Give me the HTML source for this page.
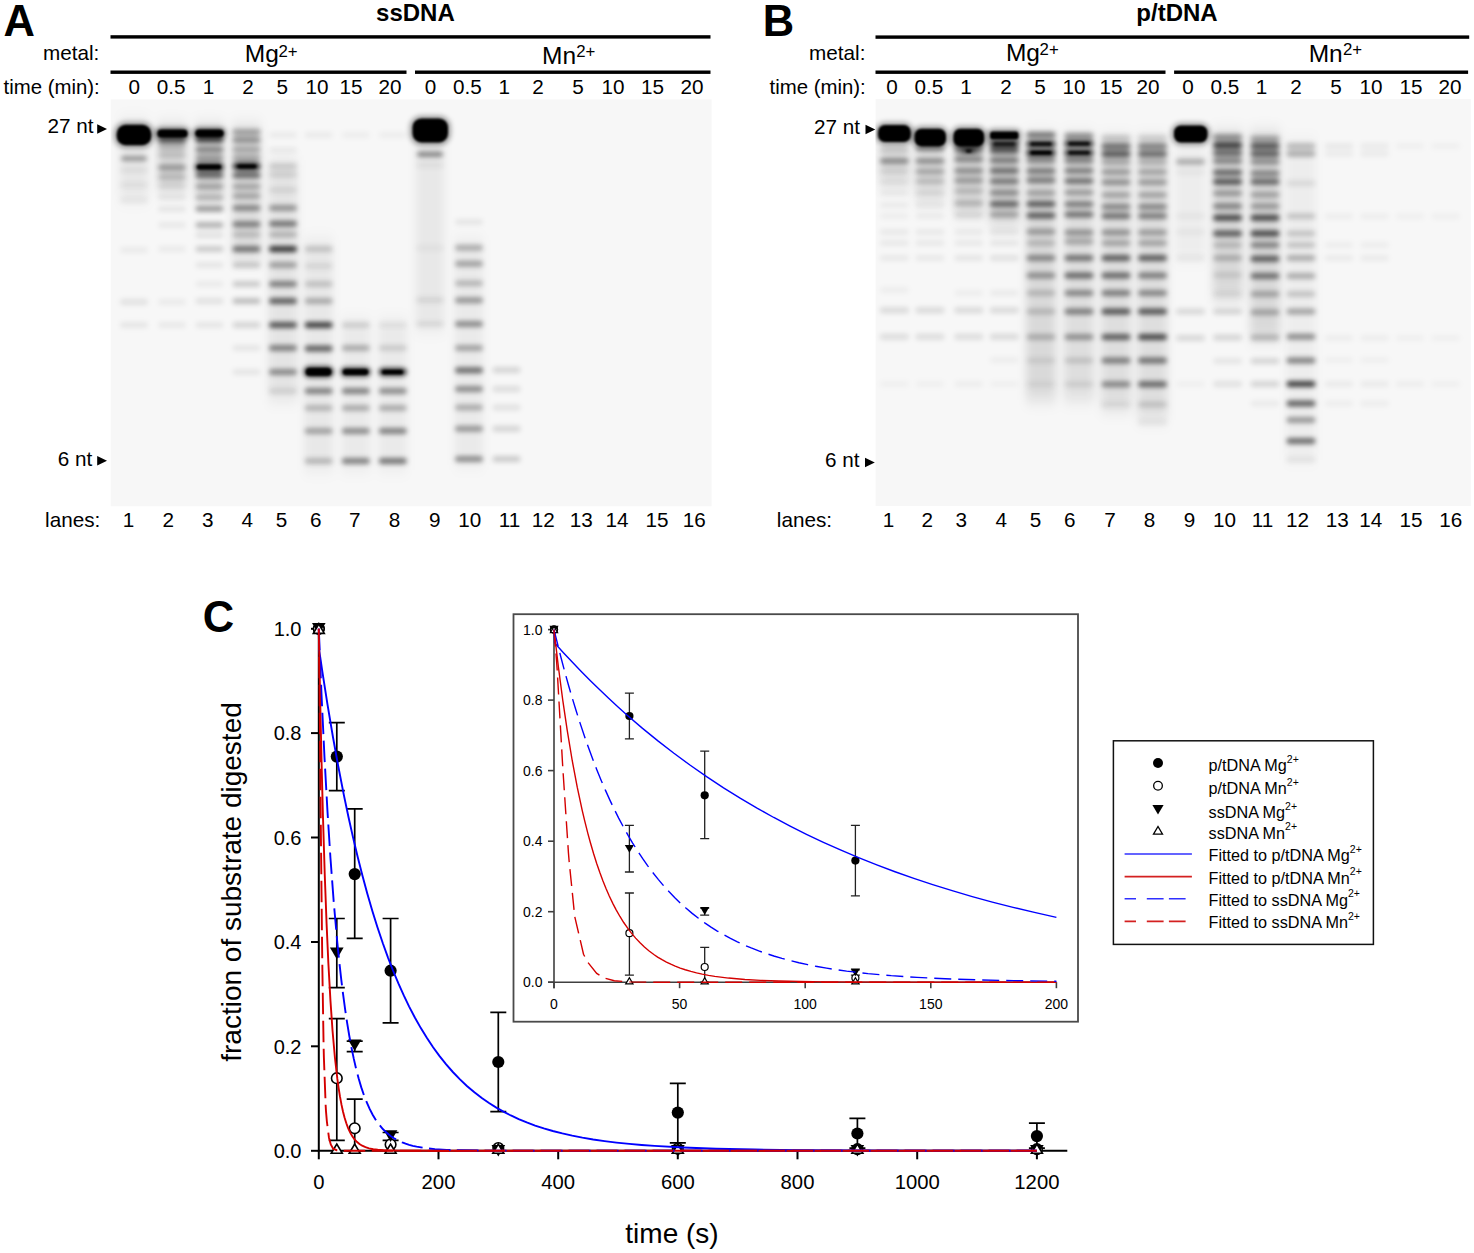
<!DOCTYPE html><html><head><meta charset="utf-8"><title>figure</title><style>
html,body{margin:0;padding:0;background:#fff;width:1474px;height:1253px;overflow:hidden}svg{display:block}
text{font-family:"Liberation Sans",sans-serif}
</style></head><body>
<svg width="1474" height="1253" viewBox="0 0 1474 1253">
<defs><filter id="blurA" x="-10%" y="-10%" width="120%" height="120%"><feGaussianBlur stdDeviation="2.8 2.4"/></filter><filter id="blurB" x="-10%" y="-10%" width="120%" height="120%"><feGaussianBlur stdDeviation="2.8 2.4"/></filter><filter id="core" x="-20%" y="-20%" width="140%" height="140%"><feGaussianBlur stdDeviation="0.9"/></filter><filter id="hazeA" x="-10%" y="-10%" width="120%" height="120%"><feGaussianBlur stdDeviation="4 8"/></filter><filter id="hazeB" x="-10%" y="-10%" width="120%" height="120%"><feGaussianBlur stdDeviation="4 8"/></filter><clipPath id="clipA"><rect x="110.5" y="99.2" width="601.3" height="407.3"/></clipPath><clipPath id="clipB"><rect x="875.4" y="99" width="595.5" height="407"/></clipPath><clipPath id="clipI"><rect x="514.5" y="615" width="562.5" height="406"/></clipPath></defs>
<text x="3.6" y="36.0" font-size="43.5" text-anchor="start" font-weight="bold" fill="#000" >A</text>
<text x="415.4" y="21.0" font-size="24" text-anchor="middle" font-weight="bold" fill="#000" >ssDNA</text>
<rect x="110.5" y="35.2" width="600" height="3.4" fill="#000"/>
<rect x="110.5" y="70.5" width="296" height="3.4" fill="#000"/>
<rect x="415" y="70.5" width="295.5" height="3.4" fill="#000"/>
<text x="99.3" y="60.0" font-size="20.7" text-anchor="end" fill="#000" >metal:</text>
<text x="244.8" y="62.0" font-size="24.5">Mg</text>
<text x="278.5" y="56.7" font-size="16.8">2+</text>
<text x="542.1" y="63.7" font-size="24.5">Mn</text>
<text x="576.2" y="56.6" font-size="16.8">2+</text>
<text x="99.8" y="93.5" font-size="20.4" text-anchor="end" fill="#000" >time (min):</text>
<text x="134.3" y="93.8" font-size="20.7" text-anchor="middle" fill="#000" >0</text>
<text x="171.2" y="93.8" font-size="20.7" text-anchor="middle" fill="#000" >0.5</text>
<text x="208.5" y="93.8" font-size="20.7" text-anchor="middle" fill="#000" >1</text>
<text x="248.0" y="93.8" font-size="20.7" text-anchor="middle" fill="#000" >2</text>
<text x="282.3" y="93.8" font-size="20.7" text-anchor="middle" fill="#000" >5</text>
<text x="317.0" y="93.8" font-size="20.7" text-anchor="middle" fill="#000" >10</text>
<text x="351.0" y="93.8" font-size="20.7" text-anchor="middle" fill="#000" >15</text>
<text x="390.0" y="93.8" font-size="20.7" text-anchor="middle" fill="#000" >20</text>
<text x="430.4" y="93.8" font-size="20.7" text-anchor="middle" fill="#000" >0</text>
<text x="467.5" y="93.8" font-size="20.7" text-anchor="middle" fill="#000" >0.5</text>
<text x="504.2" y="93.8" font-size="20.7" text-anchor="middle" fill="#000" >1</text>
<text x="538.0" y="93.8" font-size="20.7" text-anchor="middle" fill="#000" >2</text>
<text x="578.0" y="93.8" font-size="20.7" text-anchor="middle" fill="#000" >5</text>
<text x="613.0" y="93.8" font-size="20.7" text-anchor="middle" fill="#000" >10</text>
<text x="652.5" y="93.8" font-size="20.7" text-anchor="middle" fill="#000" >15</text>
<text x="692.0" y="93.8" font-size="20.7" text-anchor="middle" fill="#000" >20</text>
<g clip-path="url(#clipA)">
<rect x="110.5" y="99.2" width="601.3" height="407.3" fill="#f7f7f7"/>
<g filter="url(#hazeA)">
<rect x="119.5" y="120" width="29" height="80" fill="#000" fill-opacity="0.06"/>
<rect x="157.5" y="125" width="29" height="65" fill="#000" fill-opacity="0.12"/>
<rect x="195.0" y="125" width="29" height="75" fill="#000" fill-opacity="0.12"/>
<rect x="232.0" y="125" width="29" height="135" fill="#000" fill-opacity="0.1"/>
<rect x="268.5" y="160" width="29" height="240" fill="#000" fill-opacity="0.08"/>
<rect x="304.2" y="240" width="29" height="230" fill="#000" fill-opacity="0.06"/>
<rect x="341.3" y="320" width="29" height="150" fill="#000" fill-opacity="0.05"/>
<rect x="378.3" y="320" width="29" height="150" fill="#000" fill-opacity="0.05"/>
<rect x="415.5" y="140" width="29" height="190" fill="#000" fill-opacity="0.06"/>
<rect x="454.5" y="240" width="29" height="225" fill="#000" fill-opacity="0.05"/>
</g>
<g filter="url(#blurA)">
<rect x="121.0" y="156.1" width="26" height="5" rx="2.5" fill="#000" fill-opacity="0.37"/>
<rect x="120.0" y="167.0" width="28" height="6" rx="3.0" fill="#000" fill-opacity="0.06"/>
<rect x="120.0" y="182.0" width="28" height="6" rx="3.0" fill="#000" fill-opacity="0.05"/>
<rect x="120.0" y="197.0" width="28" height="6" rx="3.0" fill="#000" fill-opacity="0.05"/>
<rect x="120.0" y="247.0" width="28" height="6" rx="3.0" fill="#000" fill-opacity="0.05"/>
<rect x="120.0" y="299.0" width="28" height="6" rx="3.0" fill="#000" fill-opacity="0.09"/>
<rect x="120.0" y="322.0" width="28" height="6" rx="3.0" fill="#000" fill-opacity="0.07"/>
<rect x="158.0" y="130.5" width="28" height="6" rx="3.0" fill="#000" fill-opacity="0.92"/>
<rect x="158.0" y="138.0" width="28" height="5" rx="2.5" fill="#000" fill-opacity="0.60"/>
<rect x="158.0" y="144.0" width="28" height="6" rx="3.0" fill="#000" fill-opacity="0.18"/>
<rect x="158.0" y="152.0" width="28" height="6" rx="3.0" fill="#000" fill-opacity="0.14"/>
<rect x="158.0" y="164.5" width="28" height="6" rx="3.0" fill="#000" fill-opacity="0.32"/>
<rect x="158.0" y="174.0" width="28" height="6" rx="3.0" fill="#000" fill-opacity="0.18"/>
<rect x="158.0" y="183.0" width="28" height="6" rx="3.0" fill="#000" fill-opacity="0.09"/>
<rect x="158.0" y="194.0" width="28" height="6" rx="3.0" fill="#000" fill-opacity="0.07"/>
<rect x="158.0" y="206.0" width="28" height="6" rx="3.0" fill="#000" fill-opacity="0.07"/>
<rect x="158.0" y="222.0" width="28" height="6" rx="3.0" fill="#000" fill-opacity="0.06"/>
<rect x="158.0" y="246.0" width="28" height="6" rx="3.0" fill="#000" fill-opacity="0.05"/>
<rect x="158.0" y="299.0" width="28" height="6" rx="3.0" fill="#000" fill-opacity="0.05"/>
<rect x="158.0" y="322.0" width="28" height="6" rx="3.0" fill="#000" fill-opacity="0.06"/>
<rect x="195.5" y="130.3" width="28" height="6" rx="3.0" fill="#000" fill-opacity="0.92"/>
<rect x="195.5" y="137.5" width="28" height="5" rx="2.5" fill="#000" fill-opacity="0.74"/>
<rect x="195.5" y="146.5" width="28" height="6" rx="3.0" fill="#000" fill-opacity="0.41"/>
<rect x="195.5" y="155.0" width="28" height="6" rx="3.0" fill="#000" fill-opacity="0.32"/>
<rect x="195.5" y="164.4" width="28" height="5" rx="2.5" fill="#000" fill-opacity="0.92"/>
<rect x="195.5" y="172.2" width="28" height="6" rx="3.0" fill="#000" fill-opacity="0.55"/>
<rect x="195.5" y="183.6" width="28" height="6" rx="3.0" fill="#000" fill-opacity="0.28"/>
<rect x="195.5" y="194.4" width="28" height="6" rx="3.0" fill="#000" fill-opacity="0.23"/>
<rect x="195.5" y="205.8" width="28" height="6" rx="3.0" fill="#000" fill-opacity="0.37"/>
<rect x="195.5" y="222.0" width="28" height="6" rx="3.0" fill="#000" fill-opacity="0.28"/>
<rect x="195.5" y="232.0" width="28" height="6" rx="3.0" fill="#000" fill-opacity="0.09"/>
<rect x="195.5" y="245.9" width="28" height="6" rx="3.0" fill="#000" fill-opacity="0.18"/>
<rect x="195.5" y="262.0" width="28" height="6" rx="3.0" fill="#000" fill-opacity="0.07"/>
<rect x="195.5" y="281.0" width="28" height="6" rx="3.0" fill="#000" fill-opacity="0.05"/>
<rect x="195.5" y="298.0" width="28" height="6" rx="3.0" fill="#000" fill-opacity="0.09"/>
<rect x="195.5" y="322.0" width="28" height="6" rx="3.0" fill="#000" fill-opacity="0.07"/>
<rect x="232.5" y="129.0" width="28" height="6" rx="3.0" fill="#000" fill-opacity="0.32"/>
<rect x="232.5" y="137.0" width="28" height="6" rx="3.0" fill="#000" fill-opacity="0.37"/>
<rect x="232.5" y="146.5" width="28" height="6" rx="3.0" fill="#000" fill-opacity="0.28"/>
<rect x="232.5" y="155.0" width="28" height="6" rx="3.0" fill="#000" fill-opacity="0.28"/>
<rect x="232.5" y="163.3" width="28" height="6" rx="3.0" fill="#000" fill-opacity="0.83"/>
<rect x="232.5" y="172.2" width="28" height="6" rx="3.0" fill="#000" fill-opacity="0.55"/>
<rect x="232.5" y="183.6" width="28" height="6" rx="3.0" fill="#000" fill-opacity="0.28"/>
<rect x="232.5" y="193.0" width="28" height="6" rx="3.0" fill="#000" fill-opacity="0.28"/>
<rect x="232.5" y="205.0" width="28" height="6" rx="3.0" fill="#000" fill-opacity="0.41"/>
<rect x="232.5" y="221.3" width="28" height="6" rx="3.0" fill="#000" fill-opacity="0.46"/>
<rect x="232.5" y="231.5" width="28" height="6" rx="3.0" fill="#000" fill-opacity="0.18"/>
<rect x="232.5" y="245.9" width="28" height="6" rx="3.0" fill="#000" fill-opacity="0.51"/>
<rect x="232.5" y="262.0" width="28" height="6" rx="3.0" fill="#000" fill-opacity="0.18"/>
<rect x="232.5" y="281.0" width="28" height="6" rx="3.0" fill="#000" fill-opacity="0.18"/>
<rect x="232.5" y="298.0" width="28" height="6" rx="3.0" fill="#000" fill-opacity="0.23"/>
<rect x="232.5" y="322.0" width="28" height="6" rx="3.0" fill="#000" fill-opacity="0.14"/>
<rect x="232.5" y="345.0" width="28" height="6" rx="3.0" fill="#000" fill-opacity="0.07"/>
<rect x="232.5" y="369.0" width="28" height="6" rx="3.0" fill="#000" fill-opacity="0.07"/>
<rect x="269.0" y="132.0" width="28" height="6" rx="3.0" fill="#000" fill-opacity="0.05"/>
<rect x="269.0" y="147.0" width="28" height="6" rx="3.0" fill="#000" fill-opacity="0.05"/>
<rect x="269.0" y="163.3" width="28" height="6" rx="3.0" fill="#000" fill-opacity="0.14"/>
<rect x="269.0" y="171.6" width="28" height="6" rx="3.0" fill="#000" fill-opacity="0.11"/>
<rect x="269.0" y="187.0" width="28" height="6" rx="3.0" fill="#000" fill-opacity="0.09"/>
<rect x="269.0" y="205.0" width="28" height="6" rx="3.0" fill="#000" fill-opacity="0.37"/>
<rect x="269.0" y="220.7" width="28" height="6" rx="3.0" fill="#000" fill-opacity="0.51"/>
<rect x="269.0" y="231.5" width="28" height="6" rx="3.0" fill="#000" fill-opacity="0.23"/>
<rect x="269.0" y="245.9" width="28" height="6" rx="3.0" fill="#000" fill-opacity="0.78"/>
<rect x="269.0" y="262.0" width="28" height="6" rx="3.0" fill="#000" fill-opacity="0.32"/>
<rect x="269.0" y="281.0" width="28" height="6" rx="3.0" fill="#000" fill-opacity="0.46"/>
<rect x="269.0" y="298.0" width="28" height="6" rx="3.0" fill="#000" fill-opacity="0.60"/>
<rect x="269.0" y="322.0" width="28" height="6" rx="3.0" fill="#000" fill-opacity="0.64"/>
<rect x="269.0" y="345.0" width="28" height="6" rx="3.0" fill="#000" fill-opacity="0.46"/>
<rect x="269.0" y="369.0" width="28" height="6" rx="3.0" fill="#000" fill-opacity="0.41"/>
<rect x="269.0" y="388.0" width="28" height="6" rx="3.0" fill="#000" fill-opacity="0.11"/>
<rect x="304.7" y="132.0" width="28" height="6" rx="3.0" fill="#000" fill-opacity="0.05"/>
<rect x="304.7" y="246.0" width="28" height="6" rx="3.0" fill="#000" fill-opacity="0.18"/>
<rect x="304.7" y="263.0" width="28" height="6" rx="3.0" fill="#000" fill-opacity="0.09"/>
<rect x="304.7" y="281.0" width="28" height="6" rx="3.0" fill="#000" fill-opacity="0.18"/>
<rect x="304.7" y="298.0" width="28" height="6" rx="3.0" fill="#000" fill-opacity="0.28"/>
<rect x="304.7" y="322.0" width="28" height="6" rx="3.0" fill="#000" fill-opacity="0.74"/>
<rect x="304.7" y="345.5" width="28" height="6" rx="3.0" fill="#000" fill-opacity="0.60"/>
<rect x="304.7" y="367.7" width="28" height="8" rx="4.0" fill="#000" fill-opacity="0.92"/>
<rect x="304.7" y="388.0" width="28" height="6" rx="3.0" fill="#000" fill-opacity="0.46"/>
<rect x="304.7" y="405.0" width="28" height="6" rx="3.0" fill="#000" fill-opacity="0.23"/>
<rect x="304.7" y="428.0" width="28" height="6" rx="3.0" fill="#000" fill-opacity="0.32"/>
<rect x="304.7" y="458.0" width="28" height="6" rx="3.0" fill="#000" fill-opacity="0.23"/>
<rect x="341.8" y="132.0" width="28" height="6" rx="3.0" fill="#000" fill-opacity="0.04"/>
<rect x="341.8" y="322.0" width="28" height="6" rx="3.0" fill="#000" fill-opacity="0.14"/>
<rect x="341.8" y="345.0" width="28" height="6" rx="3.0" fill="#000" fill-opacity="0.28"/>
<rect x="341.8" y="368.7" width="28" height="6" rx="3.0" fill="#000" fill-opacity="0.87"/>
<rect x="341.8" y="388.0" width="28" height="6" rx="3.0" fill="#000" fill-opacity="0.46"/>
<rect x="341.8" y="405.0" width="28" height="6" rx="3.0" fill="#000" fill-opacity="0.28"/>
<rect x="341.8" y="428.0" width="28" height="6" rx="3.0" fill="#000" fill-opacity="0.41"/>
<rect x="341.8" y="458.0" width="28" height="6" rx="3.0" fill="#000" fill-opacity="0.46"/>
<rect x="378.8" y="132.0" width="28" height="6" rx="3.0" fill="#000" fill-opacity="0.04"/>
<rect x="378.8" y="322.0" width="28" height="6" rx="3.0" fill="#000" fill-opacity="0.07"/>
<rect x="378.8" y="345.0" width="28" height="6" rx="3.0" fill="#000" fill-opacity="0.14"/>
<rect x="378.8" y="368.7" width="28" height="6" rx="3.0" fill="#000" fill-opacity="0.78"/>
<rect x="378.8" y="388.0" width="28" height="6" rx="3.0" fill="#000" fill-opacity="0.41"/>
<rect x="378.8" y="405.0" width="28" height="6" rx="3.0" fill="#000" fill-opacity="0.28"/>
<rect x="378.8" y="428.0" width="28" height="6" rx="3.0" fill="#000" fill-opacity="0.46"/>
<rect x="378.8" y="458.0" width="28" height="6" rx="3.0" fill="#000" fill-opacity="0.51"/>
<rect x="417.0" y="151.7" width="26" height="5" rx="2.5" fill="#000" fill-opacity="0.46"/>
<rect x="416.0" y="162.0" width="28" height="6" rx="3.0" fill="#000" fill-opacity="0.05"/>
<rect x="416.0" y="245.0" width="28" height="6" rx="3.0" fill="#000" fill-opacity="0.04"/>
<rect x="416.0" y="297.0" width="28" height="6" rx="3.0" fill="#000" fill-opacity="0.09"/>
<rect x="416.0" y="321.0" width="28" height="6" rx="3.0" fill="#000" fill-opacity="0.09"/>
<rect x="455.0" y="219.0" width="28" height="6" rx="3.0" fill="#000" fill-opacity="0.07"/>
<rect x="455.0" y="244.7" width="28" height="6" rx="3.0" fill="#000" fill-opacity="0.28"/>
<rect x="455.0" y="260.7" width="28" height="6" rx="3.0" fill="#000" fill-opacity="0.32"/>
<rect x="455.0" y="280.2" width="28" height="6" rx="3.0" fill="#000" fill-opacity="0.23"/>
<rect x="455.0" y="297.3" width="28" height="6" rx="3.0" fill="#000" fill-opacity="0.37"/>
<rect x="455.0" y="321.0" width="28" height="6" rx="3.0" fill="#000" fill-opacity="0.41"/>
<rect x="455.0" y="344.9" width="28" height="6" rx="3.0" fill="#000" fill-opacity="0.32"/>
<rect x="455.0" y="367.2" width="28" height="6" rx="3.0" fill="#000" fill-opacity="0.55"/>
<rect x="455.0" y="386.0" width="28" height="6" rx="3.0" fill="#000" fill-opacity="0.41"/>
<rect x="455.0" y="404.5" width="28" height="6" rx="3.0" fill="#000" fill-opacity="0.28"/>
<rect x="455.0" y="425.8" width="28" height="6" rx="3.0" fill="#000" fill-opacity="0.37"/>
<rect x="455.0" y="456.0" width="28" height="6" rx="3.0" fill="#000" fill-opacity="0.41"/>
<rect x="492.5" y="367.0" width="28" height="6" rx="3.0" fill="#000" fill-opacity="0.14"/>
<rect x="492.5" y="386.0" width="28" height="6" rx="3.0" fill="#000" fill-opacity="0.11"/>
<rect x="492.5" y="404.5" width="28" height="6" rx="3.0" fill="#000" fill-opacity="0.09"/>
<rect x="492.5" y="425.8" width="28" height="6" rx="3.0" fill="#000" fill-opacity="0.14"/>
<rect x="492.5" y="456.0" width="28" height="6" rx="3.0" fill="#000" fill-opacity="0.18"/>
<rect x="113.7" y="121.8" width="40.6" height="26.4" rx="12" fill="#000" fill-opacity="0.35"/>
<rect x="409.5" y="115.4" width="41.5" height="30.1" rx="12" fill="#000" fill-opacity="0.35"/>
<rect x="154.5" y="126.8" width="36.0" height="13.5" rx="6.5" fill="#000" fill-opacity="0.35"/>
<rect x="192.5" y="126.8" width="34.0" height="13.0" rx="6.5" fill="#000" fill-opacity="0.35"/>
<rect x="194.0" y="161.8" width="30.0" height="10.5" rx="5.2" fill="#000" fill-opacity="0.35"/>
<rect x="235.0" y="161.8" width="24.0" height="9.5" rx="4.8" fill="#000" fill-opacity="0.35"/>
<rect x="303.0" y="365.3" width="31.0" height="13.2" rx="6.5" fill="#000" fill-opacity="0.35"/>
<rect x="340.0" y="366.3" width="31.0" height="11.5" rx="5.7" fill="#000" fill-opacity="0.35"/>
<rect x="379.0" y="367.0" width="27.0" height="10.3" rx="5.2" fill="#000" fill-opacity="0.35"/>
</g>
<g filter="url(#core)">
<rect x="162.0" y="131.8" width="20" height="3.4" rx="1.7" fill="#000" fill-opacity="1.00"/>
<rect x="199.5" y="131.6" width="20" height="3.4" rx="1.7" fill="#000" fill-opacity="1.00"/>
<rect x="199.5" y="165.2" width="20" height="3.4" rx="1.7" fill="#000" fill-opacity="1.00"/>
<rect x="236.5" y="164.6" width="20" height="3.4" rx="1.7" fill="#000" fill-opacity="0.50"/>
<rect x="308.7" y="370.0" width="20" height="3.4" rx="1.7" fill="#000" fill-opacity="1.00"/>
<rect x="345.8" y="370.0" width="20" height="3.4" rx="1.7" fill="#000" fill-opacity="0.75"/>
<rect x="116.7" y="124.8" width="34.6" height="20.4" rx="9" fill="#000"/>
<rect x="412.5" y="118.4" width="35.5" height="24.1" rx="9" fill="#000"/>
<rect x="157.5" y="129.8" width="30.0" height="7.5" rx="3.5" fill="#000"/>
<rect x="195.5" y="129.8" width="28.0" height="7.0" rx="3.5" fill="#000"/>
<rect x="197.0" y="164.8" width="24.0" height="4.5" rx="2.2" fill="#000"/>
<rect x="238.0" y="164.8" width="18.0" height="3.5" rx="1.8" fill="#000"/>
<rect x="306.0" y="368.3" width="25.0" height="7.2" rx="3.5" fill="#000"/>
<rect x="343.0" y="369.3" width="25.0" height="5.5" rx="2.7" fill="#000"/>
<rect x="382.0" y="370.0" width="21.0" height="4.3" rx="2.2" fill="#000"/>
</g>
</g>
<text x="93.4" y="133.0" font-size="20.7" text-anchor="end" fill="#000" >27 nt</text>
<path d="M97.2,124.2 L107.0,129.0 L97.2,133.8 Z" fill="#000"/>
<text x="92.3" y="466.0" font-size="20.7" text-anchor="end" fill="#000" >6 nt</text>
<path d="M97.2,455.9 L107.0,460.7 L97.2,465.5 Z" fill="#000"/>
<text x="100.3" y="527.2" font-size="20.7" text-anchor="end" fill="#000" >lanes:</text>
<text x="128.6" y="527.4" font-size="20.7" text-anchor="middle" fill="#000" >1</text>
<text x="168.2" y="527.4" font-size="20.7" text-anchor="middle" fill="#000" >2</text>
<text x="207.7" y="527.4" font-size="20.7" text-anchor="middle" fill="#000" >3</text>
<text x="247.3" y="527.4" font-size="20.7" text-anchor="middle" fill="#000" >4</text>
<text x="281.5" y="527.4" font-size="20.7" text-anchor="middle" fill="#000" >5</text>
<text x="315.8" y="527.4" font-size="20.7" text-anchor="middle" fill="#000" >6</text>
<text x="354.8" y="527.4" font-size="20.7" text-anchor="middle" fill="#000" >7</text>
<text x="394.6" y="527.4" font-size="20.7" text-anchor="middle" fill="#000" >8</text>
<text x="434.8" y="527.4" font-size="20.7" text-anchor="middle" fill="#000" >9</text>
<text x="469.8" y="527.4" font-size="20.7" text-anchor="middle" fill="#000" >10</text>
<text x="509.4" y="527.4" font-size="20.7" text-anchor="middle" fill="#000" >11</text>
<text x="543.2" y="527.4" font-size="20.7" text-anchor="middle" fill="#000" >12</text>
<text x="581.3" y="527.4" font-size="20.7" text-anchor="middle" fill="#000" >13</text>
<text x="617.0" y="527.4" font-size="20.7" text-anchor="middle" fill="#000" >14</text>
<text x="657.0" y="527.4" font-size="20.7" text-anchor="middle" fill="#000" >15</text>
<text x="694.2" y="527.4" font-size="20.7" text-anchor="middle" fill="#000" >16</text>
<text x="762.8" y="36.0" font-size="43.5" text-anchor="start" font-weight="bold" fill="#000" >B</text>
<text x="1177.0" y="20.5" font-size="24" text-anchor="middle" font-weight="bold" fill="#000" >p/tDNA</text>
<rect x="875.5" y="35.4" width="593.7" height="3.4" fill="#000"/>
<rect x="875.5" y="70.5" width="290" height="3.4" fill="#000"/>
<rect x="1174.1" y="70.5" width="294" height="3.4" fill="#000"/>
<text x="865.4" y="60.0" font-size="20.7" text-anchor="end" fill="#000" >metal:</text>
<text x="1005.9" y="61.1" font-size="24.5">Mg</text>
<text x="1039.6" y="55.2" font-size="16.8">2+</text>
<text x="1308.7" y="62.1" font-size="24.5">Mn</text>
<text x="1342.9" y="55.2" font-size="16.8">2+</text>
<text x="865.8" y="93.5" font-size="20.4" text-anchor="end" fill="#000" >time (min):</text>
<text x="892.0" y="93.8" font-size="20.7" text-anchor="middle" fill="#000" >0</text>
<text x="929.0" y="93.8" font-size="20.7" text-anchor="middle" fill="#000" >0.5</text>
<text x="966.0" y="93.8" font-size="20.7" text-anchor="middle" fill="#000" >1</text>
<text x="1006.0" y="93.8" font-size="20.7" text-anchor="middle" fill="#000" >2</text>
<text x="1040.0" y="93.8" font-size="20.7" text-anchor="middle" fill="#000" >5</text>
<text x="1074.0" y="93.8" font-size="20.7" text-anchor="middle" fill="#000" >10</text>
<text x="1111.0" y="93.8" font-size="20.7" text-anchor="middle" fill="#000" >15</text>
<text x="1148.0" y="93.8" font-size="20.7" text-anchor="middle" fill="#000" >20</text>
<text x="1188.0" y="93.8" font-size="20.7" text-anchor="middle" fill="#000" >0</text>
<text x="1225.0" y="93.8" font-size="20.7" text-anchor="middle" fill="#000" >0.5</text>
<text x="1261.5" y="93.8" font-size="20.7" text-anchor="middle" fill="#000" >1</text>
<text x="1296.0" y="93.8" font-size="20.7" text-anchor="middle" fill="#000" >2</text>
<text x="1336.0" y="93.8" font-size="20.7" text-anchor="middle" fill="#000" >5</text>
<text x="1371.0" y="93.8" font-size="20.7" text-anchor="middle" fill="#000" >10</text>
<text x="1411.0" y="93.8" font-size="20.7" text-anchor="middle" fill="#000" >15</text>
<text x="1450.0" y="93.8" font-size="20.7" text-anchor="middle" fill="#000" >20</text>
<g clip-path="url(#clipB)">
<rect x="875.4" y="99.0" width="595.5000000000001" height="407.0" fill="#f7f7f7"/>
<g filter="url(#hazeB)">
<rect x="879.4" y="143" width="30" height="42" fill="#000" fill-opacity="0.1"/>
<rect x="915.0" y="146" width="30" height="54" fill="#000" fill-opacity="0.1"/>
<rect x="953.8" y="146" width="30" height="69" fill="#000" fill-opacity="0.12"/>
<rect x="989.3" y="138" width="30" height="87" fill="#000" fill-opacity="0.14"/>
<rect x="1026.0" y="135" width="30" height="265" fill="#000" fill-opacity="0.12"/>
<rect x="1064.0" y="135" width="30" height="265" fill="#000" fill-opacity="0.1"/>
<rect x="1101.0" y="138" width="30" height="272" fill="#000" fill-opacity="0.1"/>
<rect x="1137.5" y="138" width="30" height="282" fill="#000" fill-opacity="0.1"/>
<rect x="1175.5" y="143" width="30" height="117" fill="#000" fill-opacity="0.04"/>
<rect x="1212.6" y="132" width="30" height="168" fill="#000" fill-opacity="0.12"/>
<rect x="1250.0" y="132" width="30" height="208" fill="#000" fill-opacity="0.12"/>
<rect x="1286.0" y="140" width="30" height="320" fill="#000" fill-opacity="0.04"/>
</g>
<g filter="url(#blurB)">
<rect x="879.9" y="147.0" width="29" height="6" rx="3.0" fill="#000" fill-opacity="0.14"/>
<rect x="879.9" y="158.0" width="29" height="6" rx="3.0" fill="#000" fill-opacity="0.39"/>
<rect x="879.9" y="168.0" width="29" height="6" rx="3.0" fill="#000" fill-opacity="0.09"/>
<rect x="879.9" y="179.0" width="29" height="6" rx="3.0" fill="#000" fill-opacity="0.06"/>
<rect x="879.9" y="190.0" width="29" height="6" rx="3.0" fill="#000" fill-opacity="0.05"/>
<rect x="879.9" y="202.0" width="29" height="6" rx="3.0" fill="#000" fill-opacity="0.05"/>
<rect x="879.9" y="213.0" width="29" height="6" rx="3.0" fill="#000" fill-opacity="0.04"/>
<rect x="879.9" y="229.0" width="29" height="6" rx="3.0" fill="#000" fill-opacity="0.06"/>
<rect x="879.9" y="240.0" width="29" height="6" rx="3.0" fill="#000" fill-opacity="0.06"/>
<rect x="879.9" y="255.0" width="29" height="6" rx="3.0" fill="#000" fill-opacity="0.06"/>
<rect x="879.9" y="287.0" width="29" height="6" rx="3.0" fill="#000" fill-opacity="0.04"/>
<rect x="879.9" y="307.3" width="29" height="6" rx="3.0" fill="#000" fill-opacity="0.12"/>
<rect x="879.9" y="333.7" width="29" height="6" rx="3.0" fill="#000" fill-opacity="0.11"/>
<rect x="879.9" y="381.0" width="29" height="6" rx="3.0" fill="#000" fill-opacity="0.03"/>
<rect x="915.5" y="145.8" width="29" height="6" rx="3.0" fill="#000" fill-opacity="0.32"/>
<rect x="915.5" y="158.0" width="29" height="6" rx="3.0" fill="#000" fill-opacity="0.37"/>
<rect x="915.5" y="168.6" width="29" height="6" rx="3.0" fill="#000" fill-opacity="0.28"/>
<rect x="915.5" y="178.3" width="29" height="6" rx="3.0" fill="#000" fill-opacity="0.18"/>
<rect x="915.5" y="190.0" width="29" height="6" rx="3.0" fill="#000" fill-opacity="0.07"/>
<rect x="915.5" y="202.0" width="29" height="6" rx="3.0" fill="#000" fill-opacity="0.06"/>
<rect x="915.5" y="213.0" width="29" height="6" rx="3.0" fill="#000" fill-opacity="0.05"/>
<rect x="915.5" y="229.0" width="29" height="6" rx="3.0" fill="#000" fill-opacity="0.06"/>
<rect x="915.5" y="240.0" width="29" height="6" rx="3.0" fill="#000" fill-opacity="0.06"/>
<rect x="915.5" y="255.0" width="29" height="6" rx="3.0" fill="#000" fill-opacity="0.06"/>
<rect x="915.5" y="307.3" width="29" height="6" rx="3.0" fill="#000" fill-opacity="0.12"/>
<rect x="915.5" y="333.7" width="29" height="6" rx="3.0" fill="#000" fill-opacity="0.11"/>
<rect x="915.5" y="381.0" width="29" height="6" rx="3.0" fill="#000" fill-opacity="0.03"/>
<rect x="954.3" y="141.0" width="29" height="6" rx="3.0" fill="#000" fill-opacity="0.55"/>
<rect x="954.3" y="147.5" width="29" height="6" rx="3.0" fill="#000" fill-opacity="0.46"/>
<rect x="961.8" y="149.0" width="14" height="4" rx="2.0" fill="#000" fill-opacity="0.87"/>
<rect x="954.3" y="156.3" width="29" height="6" rx="3.0" fill="#000" fill-opacity="0.41"/>
<rect x="954.3" y="167.7" width="29" height="6" rx="3.0" fill="#000" fill-opacity="0.37"/>
<rect x="954.3" y="177.4" width="29" height="6" rx="3.0" fill="#000" fill-opacity="0.32"/>
<rect x="954.3" y="188.0" width="29" height="6" rx="3.0" fill="#000" fill-opacity="0.18"/>
<rect x="954.3" y="200.2" width="29" height="6" rx="3.0" fill="#000" fill-opacity="0.20"/>
<rect x="954.3" y="212.0" width="29" height="6" rx="3.0" fill="#000" fill-opacity="0.09"/>
<rect x="954.3" y="229.0" width="29" height="6" rx="3.0" fill="#000" fill-opacity="0.06"/>
<rect x="954.3" y="240.0" width="29" height="6" rx="3.0" fill="#000" fill-opacity="0.06"/>
<rect x="954.3" y="255.0" width="29" height="6" rx="3.0" fill="#000" fill-opacity="0.07"/>
<rect x="954.3" y="290.0" width="29" height="6" rx="3.0" fill="#000" fill-opacity="0.04"/>
<rect x="954.3" y="307.3" width="29" height="6" rx="3.0" fill="#000" fill-opacity="0.12"/>
<rect x="954.3" y="333.7" width="29" height="6" rx="3.0" fill="#000" fill-opacity="0.11"/>
<rect x="954.3" y="381.0" width="29" height="6" rx="3.0" fill="#000" fill-opacity="0.04"/>
<rect x="989.8" y="141.0" width="29" height="6" rx="3.0" fill="#000" fill-opacity="0.83"/>
<rect x="989.8" y="147.5" width="29" height="6" rx="3.0" fill="#000" fill-opacity="0.64"/>
<rect x="989.8" y="157.2" width="29" height="6" rx="3.0" fill="#000" fill-opacity="0.46"/>
<rect x="989.8" y="167.7" width="29" height="6" rx="3.0" fill="#000" fill-opacity="0.51"/>
<rect x="989.8" y="178.3" width="29" height="6" rx="3.0" fill="#000" fill-opacity="0.46"/>
<rect x="989.8" y="189.7" width="29" height="6" rx="3.0" fill="#000" fill-opacity="0.37"/>
<rect x="989.8" y="201.0" width="29" height="6" rx="3.0" fill="#000" fill-opacity="0.55"/>
<rect x="989.8" y="211.6" width="29" height="6" rx="3.0" fill="#000" fill-opacity="0.28"/>
<rect x="989.8" y="229.0" width="29" height="6" rx="3.0" fill="#000" fill-opacity="0.07"/>
<rect x="989.8" y="240.0" width="29" height="6" rx="3.0" fill="#000" fill-opacity="0.07"/>
<rect x="989.8" y="255.0" width="29" height="6" rx="3.0" fill="#000" fill-opacity="0.09"/>
<rect x="989.8" y="290.0" width="29" height="6" rx="3.0" fill="#000" fill-opacity="0.05"/>
<rect x="989.8" y="307.3" width="29" height="6" rx="3.0" fill="#000" fill-opacity="0.12"/>
<rect x="989.8" y="333.7" width="29" height="6" rx="3.0" fill="#000" fill-opacity="0.12"/>
<rect x="989.8" y="357.0" width="29" height="6" rx="3.0" fill="#000" fill-opacity="0.04"/>
<rect x="989.8" y="381.0" width="29" height="6" rx="3.0" fill="#000" fill-opacity="0.03"/>
<rect x="1026.5" y="132.0" width="29" height="6" rx="3.0" fill="#000" fill-opacity="0.51"/>
<rect x="1026.5" y="141.0" width="29" height="6" rx="3.0" fill="#000" fill-opacity="0.87"/>
<rect x="1026.5" y="149.7" width="29" height="6" rx="3.0" fill="#000" fill-opacity="0.92"/>
<rect x="1026.5" y="157.2" width="29" height="6" rx="3.0" fill="#000" fill-opacity="0.41"/>
<rect x="1026.5" y="168.0" width="29" height="6" rx="3.0" fill="#000" fill-opacity="0.46"/>
<rect x="1026.5" y="177.3" width="29" height="6" rx="3.0" fill="#000" fill-opacity="0.46"/>
<rect x="1026.5" y="189.9" width="29" height="6" rx="3.0" fill="#000" fill-opacity="0.28"/>
<rect x="1026.5" y="201.0" width="29" height="6" rx="3.0" fill="#000" fill-opacity="0.60"/>
<rect x="1026.5" y="212.4" width="29" height="6" rx="3.0" fill="#000" fill-opacity="0.60"/>
<rect x="1026.5" y="228.8" width="29" height="6" rx="3.0" fill="#000" fill-opacity="0.32"/>
<rect x="1026.5" y="240.0" width="29" height="6" rx="3.0" fill="#000" fill-opacity="0.18"/>
<rect x="1026.5" y="254.9" width="29" height="6" rx="3.0" fill="#000" fill-opacity="0.41"/>
<rect x="1026.5" y="272.5" width="29" height="6" rx="3.0" fill="#000" fill-opacity="0.37"/>
<rect x="1026.5" y="290.0" width="29" height="6" rx="3.0" fill="#000" fill-opacity="0.18"/>
<rect x="1026.5" y="308.4" width="29" height="6" rx="3.0" fill="#000" fill-opacity="0.18"/>
<rect x="1026.5" y="333.9" width="29" height="6" rx="3.0" fill="#000" fill-opacity="0.23"/>
<rect x="1026.5" y="357.6" width="29" height="6" rx="3.0" fill="#000" fill-opacity="0.09"/>
<rect x="1026.5" y="381.3" width="29" height="6" rx="3.0" fill="#000" fill-opacity="0.05"/>
<rect x="1064.5" y="133.0" width="29" height="6" rx="3.0" fill="#000" fill-opacity="0.41"/>
<rect x="1064.5" y="140.7" width="29" height="6" rx="3.0" fill="#000" fill-opacity="0.87"/>
<rect x="1064.5" y="149.7" width="29" height="6" rx="3.0" fill="#000" fill-opacity="0.87"/>
<rect x="1064.5" y="157.4" width="29" height="6" rx="3.0" fill="#000" fill-opacity="0.46"/>
<rect x="1064.5" y="167.7" width="29" height="6" rx="3.0" fill="#000" fill-opacity="0.46"/>
<rect x="1064.5" y="178.0" width="29" height="6" rx="3.0" fill="#000" fill-opacity="0.51"/>
<rect x="1064.5" y="189.6" width="29" height="6" rx="3.0" fill="#000" fill-opacity="0.32"/>
<rect x="1064.5" y="201.3" width="29" height="6" rx="3.0" fill="#000" fill-opacity="0.46"/>
<rect x="1064.5" y="211.6" width="29" height="6" rx="3.0" fill="#000" fill-opacity="0.51"/>
<rect x="1064.5" y="229.6" width="29" height="6" rx="3.0" fill="#000" fill-opacity="0.37"/>
<rect x="1064.5" y="238.6" width="29" height="6" rx="3.0" fill="#000" fill-opacity="0.28"/>
<rect x="1064.5" y="254.9" width="29" height="6" rx="3.0" fill="#000" fill-opacity="0.51"/>
<rect x="1064.5" y="272.5" width="29" height="6" rx="3.0" fill="#000" fill-opacity="0.55"/>
<rect x="1064.5" y="290.0" width="29" height="6" rx="3.0" fill="#000" fill-opacity="0.41"/>
<rect x="1064.5" y="308.4" width="29" height="6" rx="3.0" fill="#000" fill-opacity="0.46"/>
<rect x="1064.5" y="333.9" width="29" height="6" rx="3.0" fill="#000" fill-opacity="0.37"/>
<rect x="1064.5" y="357.6" width="29" height="6" rx="3.0" fill="#000" fill-opacity="0.14"/>
<rect x="1064.5" y="381.3" width="29" height="6" rx="3.0" fill="#000" fill-opacity="0.09"/>
<rect x="1101.5" y="135.0" width="29" height="6" rx="3.0" fill="#000" fill-opacity="0.18"/>
<rect x="1101.5" y="143.2" width="29" height="6" rx="3.0" fill="#000" fill-opacity="0.55"/>
<rect x="1101.5" y="151.0" width="29" height="6" rx="3.0" fill="#000" fill-opacity="0.64"/>
<rect x="1101.5" y="159.0" width="29" height="6" rx="3.0" fill="#000" fill-opacity="0.28"/>
<rect x="1101.5" y="169.0" width="29" height="6" rx="3.0" fill="#000" fill-opacity="0.32"/>
<rect x="1101.5" y="179.3" width="29" height="6" rx="3.0" fill="#000" fill-opacity="0.37"/>
<rect x="1101.5" y="192.0" width="29" height="6" rx="3.0" fill="#000" fill-opacity="0.28"/>
<rect x="1101.5" y="203.8" width="29" height="6" rx="3.0" fill="#000" fill-opacity="0.41"/>
<rect x="1101.5" y="212.9" width="29" height="6" rx="3.0" fill="#000" fill-opacity="0.51"/>
<rect x="1101.5" y="229.6" width="29" height="6" rx="3.0" fill="#000" fill-opacity="0.37"/>
<rect x="1101.5" y="240.0" width="29" height="6" rx="3.0" fill="#000" fill-opacity="0.28"/>
<rect x="1101.5" y="254.9" width="29" height="6" rx="3.0" fill="#000" fill-opacity="0.60"/>
<rect x="1101.5" y="272.5" width="29" height="6" rx="3.0" fill="#000" fill-opacity="0.55"/>
<rect x="1101.5" y="290.0" width="29" height="6" rx="3.0" fill="#000" fill-opacity="0.46"/>
<rect x="1101.5" y="308.4" width="29" height="6" rx="3.0" fill="#000" fill-opacity="0.64"/>
<rect x="1101.5" y="333.9" width="29" height="6" rx="3.0" fill="#000" fill-opacity="0.60"/>
<rect x="1101.5" y="357.6" width="29" height="6" rx="3.0" fill="#000" fill-opacity="0.46"/>
<rect x="1101.5" y="381.3" width="29" height="6" rx="3.0" fill="#000" fill-opacity="0.41"/>
<rect x="1101.5" y="401.5" width="29" height="6" rx="3.0" fill="#000" fill-opacity="0.07"/>
<rect x="1138.0" y="135.0" width="29" height="6" rx="3.0" fill="#000" fill-opacity="0.14"/>
<rect x="1138.0" y="143.2" width="29" height="6" rx="3.0" fill="#000" fill-opacity="0.46"/>
<rect x="1138.0" y="151.0" width="29" height="6" rx="3.0" fill="#000" fill-opacity="0.55"/>
<rect x="1138.0" y="159.0" width="29" height="6" rx="3.0" fill="#000" fill-opacity="0.23"/>
<rect x="1138.0" y="169.0" width="29" height="6" rx="3.0" fill="#000" fill-opacity="0.28"/>
<rect x="1138.0" y="179.3" width="29" height="6" rx="3.0" fill="#000" fill-opacity="0.32"/>
<rect x="1138.0" y="192.0" width="29" height="6" rx="3.0" fill="#000" fill-opacity="0.28"/>
<rect x="1138.0" y="203.8" width="29" height="6" rx="3.0" fill="#000" fill-opacity="0.41"/>
<rect x="1138.0" y="212.9" width="29" height="6" rx="3.0" fill="#000" fill-opacity="0.46"/>
<rect x="1138.0" y="229.6" width="29" height="6" rx="3.0" fill="#000" fill-opacity="0.32"/>
<rect x="1138.0" y="240.0" width="29" height="6" rx="3.0" fill="#000" fill-opacity="0.28"/>
<rect x="1138.0" y="254.9" width="29" height="6" rx="3.0" fill="#000" fill-opacity="0.60"/>
<rect x="1138.0" y="272.5" width="29" height="6" rx="3.0" fill="#000" fill-opacity="0.46"/>
<rect x="1138.0" y="290.0" width="29" height="6" rx="3.0" fill="#000" fill-opacity="0.41"/>
<rect x="1138.0" y="308.4" width="29" height="6" rx="3.0" fill="#000" fill-opacity="0.64"/>
<rect x="1138.0" y="333.9" width="29" height="6" rx="3.0" fill="#000" fill-opacity="0.69"/>
<rect x="1138.0" y="357.6" width="29" height="6" rx="3.0" fill="#000" fill-opacity="0.51"/>
<rect x="1138.0" y="381.3" width="29" height="6" rx="3.0" fill="#000" fill-opacity="0.55"/>
<rect x="1138.0" y="401.5" width="29" height="6" rx="3.0" fill="#000" fill-opacity="0.14"/>
<rect x="1138.0" y="419.0" width="29" height="6" rx="3.0" fill="#000" fill-opacity="0.05"/>
<rect x="1176.0" y="158.7" width="29" height="6" rx="3.0" fill="#000" fill-opacity="0.28"/>
<rect x="1176.0" y="169.0" width="29" height="6" rx="3.0" fill="#000" fill-opacity="0.04"/>
<rect x="1176.0" y="213.0" width="29" height="6" rx="3.0" fill="#000" fill-opacity="0.04"/>
<rect x="1176.0" y="229.0" width="29" height="6" rx="3.0" fill="#000" fill-opacity="0.04"/>
<rect x="1176.0" y="255.0" width="29" height="6" rx="3.0" fill="#000" fill-opacity="0.05"/>
<rect x="1176.0" y="308.6" width="29" height="6" rx="3.0" fill="#000" fill-opacity="0.13"/>
<rect x="1176.0" y="335.0" width="29" height="6" rx="3.0" fill="#000" fill-opacity="0.13"/>
<rect x="1176.0" y="381.0" width="29" height="6" rx="3.0" fill="#000" fill-opacity="0.03"/>
<rect x="1213.1" y="134.2" width="29" height="6" rx="3.0" fill="#000" fill-opacity="0.41"/>
<rect x="1213.1" y="142.2" width="29" height="6" rx="3.0" fill="#000" fill-opacity="0.78"/>
<rect x="1213.1" y="150.0" width="29" height="6" rx="3.0" fill="#000" fill-opacity="0.55"/>
<rect x="1213.1" y="158.0" width="29" height="6" rx="3.0" fill="#000" fill-opacity="0.41"/>
<rect x="1213.1" y="169.5" width="29" height="6" rx="3.0" fill="#000" fill-opacity="0.55"/>
<rect x="1213.1" y="178.8" width="29" height="6" rx="3.0" fill="#000" fill-opacity="0.64"/>
<rect x="1213.1" y="190.3" width="29" height="6" rx="3.0" fill="#000" fill-opacity="0.32"/>
<rect x="1213.1" y="203.2" width="29" height="6" rx="3.0" fill="#000" fill-opacity="0.41"/>
<rect x="1213.1" y="214.7" width="29" height="6" rx="3.0" fill="#000" fill-opacity="0.69"/>
<rect x="1213.1" y="230.5" width="29" height="6" rx="3.0" fill="#000" fill-opacity="0.60"/>
<rect x="1213.1" y="242.0" width="29" height="6" rx="3.0" fill="#000" fill-opacity="0.18"/>
<rect x="1213.1" y="255.0" width="29" height="6" rx="3.0" fill="#000" fill-opacity="0.23"/>
<rect x="1213.1" y="272.0" width="29" height="6" rx="3.0" fill="#000" fill-opacity="0.11"/>
<rect x="1213.1" y="291.0" width="29" height="6" rx="3.0" fill="#000" fill-opacity="0.07"/>
<rect x="1213.1" y="308.6" width="29" height="6" rx="3.0" fill="#000" fill-opacity="0.14"/>
<rect x="1213.1" y="334.4" width="29" height="6" rx="3.0" fill="#000" fill-opacity="0.14"/>
<rect x="1213.1" y="358.0" width="29" height="6" rx="3.0" fill="#000" fill-opacity="0.07"/>
<rect x="1213.1" y="381.0" width="29" height="6" rx="3.0" fill="#000" fill-opacity="0.09"/>
<rect x="1250.5" y="135.7" width="29" height="6" rx="3.0" fill="#000" fill-opacity="0.32"/>
<rect x="1250.5" y="142.9" width="29" height="6" rx="3.0" fill="#000" fill-opacity="0.64"/>
<rect x="1250.5" y="150.8" width="29" height="6" rx="3.0" fill="#000" fill-opacity="0.60"/>
<rect x="1250.5" y="158.7" width="29" height="6" rx="3.0" fill="#000" fill-opacity="0.37"/>
<rect x="1250.5" y="170.2" width="29" height="6" rx="3.0" fill="#000" fill-opacity="0.41"/>
<rect x="1250.5" y="178.8" width="29" height="6" rx="3.0" fill="#000" fill-opacity="0.55"/>
<rect x="1250.5" y="191.7" width="29" height="6" rx="3.0" fill="#000" fill-opacity="0.28"/>
<rect x="1250.5" y="203.2" width="29" height="6" rx="3.0" fill="#000" fill-opacity="0.32"/>
<rect x="1250.5" y="214.7" width="29" height="6" rx="3.0" fill="#000" fill-opacity="0.69"/>
<rect x="1250.5" y="230.5" width="29" height="6" rx="3.0" fill="#000" fill-opacity="0.69"/>
<rect x="1250.5" y="242.0" width="29" height="6" rx="3.0" fill="#000" fill-opacity="0.41"/>
<rect x="1250.5" y="255.7" width="29" height="6" rx="3.0" fill="#000" fill-opacity="0.60"/>
<rect x="1250.5" y="273.0" width="29" height="6" rx="3.0" fill="#000" fill-opacity="0.51"/>
<rect x="1250.5" y="291.0" width="29" height="6" rx="3.0" fill="#000" fill-opacity="0.28"/>
<rect x="1250.5" y="309.3" width="29" height="6" rx="3.0" fill="#000" fill-opacity="0.28"/>
<rect x="1250.5" y="334.4" width="29" height="6" rx="3.0" fill="#000" fill-opacity="0.23"/>
<rect x="1250.5" y="358.0" width="29" height="6" rx="3.0" fill="#000" fill-opacity="0.14"/>
<rect x="1250.5" y="381.0" width="29" height="6" rx="3.0" fill="#000" fill-opacity="0.14"/>
<rect x="1250.5" y="400.5" width="29" height="6" rx="3.0" fill="#000" fill-opacity="0.05"/>
<rect x="1286.5" y="142.9" width="29" height="6" rx="3.0" fill="#000" fill-opacity="0.23"/>
<rect x="1286.5" y="150.8" width="29" height="6" rx="3.0" fill="#000" fill-opacity="0.28"/>
<rect x="1286.5" y="180.2" width="29" height="6" rx="3.0" fill="#000" fill-opacity="0.09"/>
<rect x="1286.5" y="213.3" width="29" height="6" rx="3.0" fill="#000" fill-opacity="0.18"/>
<rect x="1286.5" y="230.5" width="29" height="6" rx="3.0" fill="#000" fill-opacity="0.18"/>
<rect x="1286.5" y="242.0" width="29" height="6" rx="3.0" fill="#000" fill-opacity="0.18"/>
<rect x="1286.5" y="255.0" width="29" height="6" rx="3.0" fill="#000" fill-opacity="0.28"/>
<rect x="1286.5" y="273.0" width="29" height="6" rx="3.0" fill="#000" fill-opacity="0.28"/>
<rect x="1286.5" y="291.0" width="29" height="6" rx="3.0" fill="#000" fill-opacity="0.18"/>
<rect x="1286.5" y="308.6" width="29" height="6" rx="3.0" fill="#000" fill-opacity="0.32"/>
<rect x="1286.5" y="333.7" width="29" height="6" rx="3.0" fill="#000" fill-opacity="0.41"/>
<rect x="1286.5" y="357.4" width="29" height="6" rx="3.0" fill="#000" fill-opacity="0.46"/>
<rect x="1286.5" y="381.0" width="29" height="6" rx="3.0" fill="#000" fill-opacity="0.74"/>
<rect x="1286.5" y="400.5" width="29" height="6" rx="3.0" fill="#000" fill-opacity="0.60"/>
<rect x="1286.5" y="417.0" width="29" height="6" rx="3.0" fill="#000" fill-opacity="0.37"/>
<rect x="1286.5" y="438.0" width="29" height="6" rx="3.0" fill="#000" fill-opacity="0.55"/>
<rect x="1286.5" y="456.6" width="29" height="6" rx="3.0" fill="#000" fill-opacity="0.07"/>
<rect x="1324.5" y="142.9" width="29" height="6" rx="3.0" fill="#000" fill-opacity="0.06"/>
<rect x="1324.5" y="150.8" width="29" height="6" rx="3.0" fill="#000" fill-opacity="0.05"/>
<rect x="1324.5" y="213.3" width="29" height="6" rx="3.0" fill="#000" fill-opacity="0.04"/>
<rect x="1324.5" y="242.0" width="29" height="6" rx="3.0" fill="#000" fill-opacity="0.04"/>
<rect x="1324.5" y="255.0" width="29" height="6" rx="3.0" fill="#000" fill-opacity="0.05"/>
<rect x="1324.5" y="335.0" width="29" height="6" rx="3.0" fill="#000" fill-opacity="0.04"/>
<rect x="1324.5" y="357.0" width="29" height="6" rx="3.0" fill="#000" fill-opacity="0.03"/>
<rect x="1324.5" y="381.0" width="29" height="6" rx="3.0" fill="#000" fill-opacity="0.05"/>
<rect x="1324.5" y="400.5" width="29" height="6" rx="3.0" fill="#000" fill-opacity="0.04"/>
<rect x="1360.1" y="142.9" width="29" height="6" rx="3.0" fill="#000" fill-opacity="0.05"/>
<rect x="1360.1" y="150.8" width="29" height="6" rx="3.0" fill="#000" fill-opacity="0.05"/>
<rect x="1360.1" y="213.3" width="29" height="6" rx="3.0" fill="#000" fill-opacity="0.04"/>
<rect x="1360.1" y="242.0" width="29" height="6" rx="3.0" fill="#000" fill-opacity="0.04"/>
<rect x="1360.1" y="255.0" width="29" height="6" rx="3.0" fill="#000" fill-opacity="0.05"/>
<rect x="1360.1" y="335.0" width="29" height="6" rx="3.0" fill="#000" fill-opacity="0.04"/>
<rect x="1360.1" y="357.0" width="29" height="6" rx="3.0" fill="#000" fill-opacity="0.03"/>
<rect x="1360.1" y="381.0" width="29" height="6" rx="3.0" fill="#000" fill-opacity="0.05"/>
<rect x="1360.1" y="400.5" width="29" height="6" rx="3.0" fill="#000" fill-opacity="0.04"/>
<rect x="1395.5" y="142.9" width="29" height="6" rx="3.0" fill="#000" fill-opacity="0.03"/>
<rect x="1395.5" y="213.3" width="29" height="6" rx="3.0" fill="#000" fill-opacity="0.03"/>
<rect x="1395.5" y="335.0" width="29" height="6" rx="3.0" fill="#000" fill-opacity="0.03"/>
<rect x="1395.5" y="381.0" width="29" height="6" rx="3.0" fill="#000" fill-opacity="0.04"/>
<rect x="1431.1" y="142.9" width="29" height="6" rx="3.0" fill="#000" fill-opacity="0.03"/>
<rect x="1431.1" y="213.3" width="29" height="6" rx="3.0" fill="#000" fill-opacity="0.03"/>
<rect x="1431.1" y="335.0" width="29" height="6" rx="3.0" fill="#000" fill-opacity="0.03"/>
<rect x="1431.1" y="381.0" width="29" height="6" rx="3.0" fill="#000" fill-opacity="0.03"/>
<rect x="875.0" y="122.0" width="38.8" height="23.0" rx="10" fill="#000" fill-opacity="0.35"/>
<rect x="911.5" y="125.8" width="37.5" height="23.6" rx="10" fill="#000" fill-opacity="0.35"/>
<rect x="950.4" y="125.8" width="36.8" height="23.6" rx="10" fill="#000" fill-opacity="0.35"/>
<rect x="1171.0" y="122.5" width="39.5" height="23.0" rx="10" fill="#000" fill-opacity="0.35"/>
<rect x="987.0" y="128.5" width="34.5" height="14.0" rx="6" fill="#000" fill-opacity="0.35"/>
</g>
<g filter="url(#core)">
<rect x="965.8" y="149.3" width="6" height="3.4" rx="1.7" fill="#000" fill-opacity="0.75"/>
<rect x="993.8" y="142.3" width="21" height="3.4" rx="1.7" fill="#000" fill-opacity="0.50"/>
<rect x="1030.5" y="142.3" width="21" height="3.4" rx="1.7" fill="#000" fill-opacity="0.75"/>
<rect x="1030.5" y="151.0" width="21" height="3.4" rx="1.7" fill="#000" fill-opacity="1.00"/>
<rect x="1068.5" y="142.0" width="21" height="3.4" rx="1.7" fill="#000" fill-opacity="0.75"/>
<rect x="1068.5" y="151.0" width="21" height="3.4" rx="1.7" fill="#000" fill-opacity="0.75"/>
<rect x="878.0" y="125.0" width="32.8" height="17.0" rx="7" fill="#000"/>
<rect x="914.5" y="128.8" width="31.5" height="17.6" rx="7" fill="#000"/>
<rect x="953.4" y="128.8" width="30.8" height="17.6" rx="7" fill="#000"/>
<rect x="1174.0" y="125.5" width="33.5" height="17.0" rx="7" fill="#000"/>
<rect x="990.0" y="131.5" width="28.5" height="8.0" rx="3" fill="#000"/>
</g>
</g>
<text x="860.0" y="133.5" font-size="20.7" text-anchor="end" fill="#000" >27 nt</text>
<path d="M865.5,124.7 L875.3,129.5 L865.5,134.3 Z" fill="#000"/>
<text x="859.4" y="466.6" font-size="20.7" text-anchor="end" fill="#000" >6 nt</text>
<path d="M865.0,457.7 L874.8,462.5 L865.0,467.3 Z" fill="#000"/>
<text x="832.0" y="527.2" font-size="20.7" text-anchor="end" fill="#000" >lanes:</text>
<text x="888.6" y="527.4" font-size="20.7" text-anchor="middle" fill="#000" >1</text>
<text x="927.2" y="527.4" font-size="20.7" text-anchor="middle" fill="#000" >2</text>
<text x="961.2" y="527.4" font-size="20.7" text-anchor="middle" fill="#000" >3</text>
<text x="1001.2" y="527.4" font-size="20.7" text-anchor="middle" fill="#000" >4</text>
<text x="1035.4" y="527.4" font-size="20.7" text-anchor="middle" fill="#000" >5</text>
<text x="1069.8" y="527.4" font-size="20.7" text-anchor="middle" fill="#000" >6</text>
<text x="1110.0" y="527.4" font-size="20.7" text-anchor="middle" fill="#000" >7</text>
<text x="1149.6" y="527.4" font-size="20.7" text-anchor="middle" fill="#000" >8</text>
<text x="1189.6" y="527.4" font-size="20.7" text-anchor="middle" fill="#000" >9</text>
<text x="1224.6" y="527.4" font-size="20.7" text-anchor="middle" fill="#000" >10</text>
<text x="1262.4" y="527.4" font-size="20.7" text-anchor="middle" fill="#000" >11</text>
<text x="1297.4" y="527.4" font-size="20.7" text-anchor="middle" fill="#000" >12</text>
<text x="1337.2" y="527.4" font-size="20.7" text-anchor="middle" fill="#000" >13</text>
<text x="1370.8" y="527.4" font-size="20.7" text-anchor="middle" fill="#000" >14</text>
<text x="1411.0" y="527.4" font-size="20.7" text-anchor="middle" fill="#000" >15</text>
<text x="1450.8" y="527.4" font-size="20.7" text-anchor="middle" fill="#000" >16</text>
<text x="202.7" y="631.8" font-size="43.5" text-anchor="start" font-weight="bold" fill="#000" >C</text>
<path d="M318.8,632.8 V1150.8 H1067.3" fill="none" stroke="#000" stroke-width="2"/>
<path d="M311,1150.8 H318.8" stroke="#000" stroke-width="2"/>
<text x="301.5" y="1158.0" font-size="20" text-anchor="end" fill="#000" >0.0</text>
<path d="M311,1046.3 H318.8" stroke="#000" stroke-width="2"/>
<text x="301.5" y="1053.5" font-size="20" text-anchor="end" fill="#000" >0.2</text>
<path d="M311,942.0 H318.8" stroke="#000" stroke-width="2"/>
<text x="301.5" y="949.2" font-size="20" text-anchor="end" fill="#000" >0.4</text>
<path d="M311,837.5 H318.8" stroke="#000" stroke-width="2"/>
<text x="301.5" y="844.8" font-size="20" text-anchor="end" fill="#000" >0.6</text>
<path d="M311,733.1 H318.8" stroke="#000" stroke-width="2"/>
<text x="301.5" y="740.4" font-size="20" text-anchor="end" fill="#000" >0.8</text>
<path d="M311,628.8 H318.8" stroke="#000" stroke-width="2"/>
<text x="301.5" y="636.0" font-size="20" text-anchor="end" fill="#000" >1.0</text>
<path d="M318.8,1150.8 V1159.3" stroke="#000" stroke-width="2"/>
<text x="318.8" y="1189.0" font-size="20.3" text-anchor="middle" fill="#000" >0</text>
<path d="M438.5,1150.8 V1159.3" stroke="#000" stroke-width="2"/>
<text x="438.5" y="1189.0" font-size="20.3" text-anchor="middle" fill="#000" >200</text>
<path d="M558.2,1150.8 V1159.3" stroke="#000" stroke-width="2"/>
<text x="558.2" y="1189.0" font-size="20.3" text-anchor="middle" fill="#000" >400</text>
<path d="M677.8,1150.8 V1159.3" stroke="#000" stroke-width="2"/>
<text x="677.8" y="1189.0" font-size="20.3" text-anchor="middle" fill="#000" >600</text>
<path d="M797.5,1150.8 V1159.3" stroke="#000" stroke-width="2"/>
<text x="797.5" y="1189.0" font-size="20.3" text-anchor="middle" fill="#000" >800</text>
<path d="M917.2,1150.8 V1159.3" stroke="#000" stroke-width="2"/>
<text x="917.2" y="1189.0" font-size="20.3" text-anchor="middle" fill="#000" >1000</text>
<path d="M1036.9,1150.8 V1159.3" stroke="#000" stroke-width="2"/>
<text x="1036.9" y="1189.0" font-size="20.3" text-anchor="middle" fill="#000" >1200</text>
<text x="672" y="1243" font-size="28" text-anchor="middle">time (s)</text>
<text transform="translate(240.7,882) rotate(-90)" font-size="28" text-anchor="middle" x="0" y="0">fraction of substrate digested</text>
<path d="M336.8,722.7 V790.6 M328.8,722.7 H344.8 M328.8,790.6 H344.8" stroke="#000" stroke-width="1.7" fill="none"/>
<path d="M354.7,808.8 V938.3 M346.7,808.8 H362.7 M346.7,938.3 H362.7" stroke="#000" stroke-width="1.7" fill="none"/>
<path d="M390.6,918.5 V1022.9 M382.6,918.5 H398.6 M382.6,1022.9 H398.6" stroke="#000" stroke-width="1.7" fill="none"/>
<path d="M498.3,1012.4 V1111.6 M490.3,1012.4 H506.3 M490.3,1111.6 H506.3" stroke="#000" stroke-width="1.7" fill="none"/>
<path d="M677.8,1083.4 V1142.9 M669.8,1083.4 H685.8 M669.8,1142.9 H685.8" stroke="#000" stroke-width="1.7" fill="none"/>
<path d="M857.4,1118.4 V1148.1 M849.4,1118.4 H865.4 M849.4,1148.1 H865.4" stroke="#000" stroke-width="1.7" fill="none"/>
<path d="M1036.9,1123.1 V1148.1 M1028.9,1123.1 H1044.9 M1028.9,1148.1 H1044.9" stroke="#000" stroke-width="1.7" fill="none"/>
<path d="M336.8,1018.7 V1140.3 M328.8,1018.7 H344.8 M328.8,1140.3 H344.8" stroke="#000" stroke-width="1.7" fill="none"/>
<path d="M354.7,1099.1 V1150.8 M346.7,1099.1 H362.7 M346.7,1150.8 H362.7" stroke="#000" stroke-width="1.7" fill="none"/>
<path d="M336.8,918.5 V987.6 M328.8,918.5 H344.8 M328.8,987.6 H344.8" stroke="#000" stroke-width="1.7" fill="none"/>
<path d="M354.7,1041.1 V1051.6 M346.7,1041.1 H362.7 M346.7,1051.6 H362.7" stroke="#000" stroke-width="1.7" fill="none"/>
<path d="M390.6,1132.5 V1140.3 M382.6,1132.5 H398.6 M382.6,1140.3 H398.6" stroke="#000" stroke-width="1.7" fill="none"/>
<circle cx="318.8" cy="628.8" r="6.10" fill="#000"/>
<circle cx="336.8" cy="756.6" r="6.10" fill="#000"/>
<circle cx="354.7" cy="874.1" r="6.10" fill="#000"/>
<circle cx="390.6" cy="970.7" r="6.10" fill="#000"/>
<circle cx="498.3" cy="1062.0" r="6.10" fill="#000"/>
<circle cx="677.8" cy="1112.6" r="6.10" fill="#000"/>
<circle cx="857.4" cy="1133.5" r="6.10" fill="#000"/>
<circle cx="1036.9" cy="1136.1" r="6.10" fill="#000"/>
<circle cx="318.8" cy="628.8" r="5.30" fill="#fff" stroke="#000" stroke-width="1.6"/>
<circle cx="336.8" cy="1078.2" r="5.30" fill="#fff" stroke="#000" stroke-width="1.6"/>
<circle cx="354.7" cy="1128.3" r="5.30" fill="#fff" stroke="#000" stroke-width="1.6"/>
<circle cx="390.6" cy="1144.5" r="5.30" fill="#fff" stroke="#000" stroke-width="1.6"/>
<circle cx="498.3" cy="1148.1" r="5.30" fill="#fff" stroke="#000" stroke-width="1.6"/>
<circle cx="677.8" cy="1148.7" r="5.30" fill="#fff" stroke="#000" stroke-width="1.6"/>
<circle cx="857.4" cy="1149.2" r="5.30" fill="#fff" stroke="#000" stroke-width="1.6"/>
<circle cx="1036.9" cy="1149.2" r="5.30" fill="#fff" stroke="#000" stroke-width="1.6"/>
<path d="M312.0,623.0 H325.6 L318.8,634.5 Z" fill="#000"/>
<path d="M329.9,947.6 H343.6 L336.8,959.2 Z" fill="#000"/>
<path d="M347.9,1039.5 H361.5 L354.7,1051.1 Z" fill="#000"/>
<path d="M383.8,1130.3 H397.4 L390.6,1141.9 Z" fill="#000"/>
<path d="M491.5,1145.0 H505.2 L498.3,1156.5 Z" fill="#000"/>
<path d="M671.0,1145.0 H684.7 L677.8,1156.5 Z" fill="#000"/>
<path d="M850.5,1145.0 H864.2 L857.4,1156.5 Z" fill="#000"/>
<path d="M1030.0,1145.0 H1043.7 L1036.9,1156.5 Z" fill="#000"/>
<path d="M313.3,633.4 H324.3 L318.8,624.1 Z" fill="#fff" stroke="#000" stroke-width="1.6" stroke-linejoin="miter"/>
<path d="M331.2,1153.3 H342.3 L336.8,1144.0 Z" fill="#fff" stroke="#000" stroke-width="1.6" stroke-linejoin="miter"/>
<path d="M349.2,1153.3 H360.2 L354.7,1144.0 Z" fill="#fff" stroke="#000" stroke-width="1.6" stroke-linejoin="miter"/>
<path d="M385.1,1153.3 H396.1 L390.6,1144.0 Z" fill="#fff" stroke="#000" stroke-width="1.6" stroke-linejoin="miter"/>
<path d="M492.8,1153.3 H503.8 L498.3,1144.0 Z" fill="#fff" stroke="#000" stroke-width="1.6" stroke-linejoin="miter"/>
<path d="M672.3,1153.3 H683.3 L677.8,1144.0 Z" fill="#fff" stroke="#000" stroke-width="1.6" stroke-linejoin="miter"/>
<path d="M851.9,1153.3 H862.9 L857.4,1144.0 Z" fill="#fff" stroke="#000" stroke-width="1.6" stroke-linejoin="miter"/>
<path d="M1031.4,1153.3 H1042.4 L1036.9,1144.0 Z" fill="#fff" stroke="#000" stroke-width="1.6" stroke-linejoin="miter"/>
<polyline points="318.80,628.75 319.10,649.62 322.39,671.93 327.48,704.47 332.86,736.52 338.25,766.27 343.93,795.35 348.42,816.75 352.91,836.86 357.70,856.98 362.48,875.81 367.27,893.43 372.36,910.92 377.44,927.22 382.83,943.27 387.92,957.37 393.00,970.51 398.39,983.45 403.77,995.47 409.16,1006.62 414.84,1017.52 420.83,1028.11 426.81,1037.85 433.09,1047.25 439.38,1055.87 445.96,1064.13 452.84,1072.00 459.72,1079.15 466.90,1085.92 474.38,1092.30 482.16,1098.26 489.04,1103.03 495.93,1107.36 503.41,1111.63 510.89,1115.48 518.67,1119.08 526.74,1122.43 535.12,1125.53 543.80,1128.38 552.77,1130.99 562.35,1133.44 572.22,1135.65 582.40,1137.64 593.17,1139.45 604.54,1141.10 616.50,1142.57 629.37,1143.90 641.64,1144.97 654.50,1145.91 683.23,1147.50 716.14,1148.69 754.73,1149.54 799.02,1150.10 854.67,1150.45 927.67,1150.64 1036.88,1150.73" fill="none" stroke="#0000ff" stroke-width="1.9"/>
<polyline points="318.80,628.75 320.00,691.47 321.49,759.37 322.99,817.24 324.78,875.50 326.58,923.59 328.37,963.27 330.47,1000.90 332.56,1030.97 334.96,1058.02 337.35,1078.97 338.55,1087.59 340.04,1096.93 341.54,1104.89 343.04,1111.67 344.53,1117.45 346.33,1123.26 348.12,1128.07 350.22,1132.62 352.31,1136.26 354.40,1139.17 356.80,1141.78 359.49,1144.03 362.18,1145.71 365.48,1147.20 369.07,1148.34 373.25,1149.21 377.74,1149.80 383.43,1150.23 390.31,1150.50 399.58,1150.66 439.08,1150.75 1036.88,1150.75" fill="none" stroke="#d40000" stroke-width="1.9"/>
<polyline points="318.80,628.75 321.49,694.05 324.48,757.08 327.48,811.40 330.47,858.23 333.76,902.32 337.35,942.87 339.15,960.59 341.24,979.36 343.04,993.97 345.13,1009.45 347.22,1023.40 349.32,1035.98 351.41,1047.31 353.81,1058.89 356.20,1069.18 358.59,1078.32 361.29,1087.38 363.98,1095.31 366.67,1102.24 369.66,1108.94 372.66,1114.71 375.95,1120.14 379.24,1124.75 382.83,1129.00 386.72,1132.82 390.91,1136.18 393.60,1138.00 396.29,1139.60 399.28,1141.14 402.28,1142.46 405.57,1143.71 409.16,1144.86 412.75,1145.82 416.64,1146.69 425.02,1148.07 434.89,1149.11 446.56,1149.83 460.92,1150.30 486.05,1150.62 528.54,1150.73 1036.88,1150.75" fill="none" stroke="#0000ff" stroke-width="1.9" stroke-dasharray="21.5 6.5"/>
<polyline points="318.80,628.75 319.40,674.14 320.89,833.37 322.09,945.33 322.39,970.52 323.59,1045.15 323.89,1057.45 325.68,1105.77 325.98,1111.08 326.88,1121.52 328.97,1137.70 330.77,1144.49 333.16,1148.66 336.75,1150.23 342.74,1150.75 1036.88,1150.75" fill="none" stroke="#d40000" stroke-width="1.9" stroke-dasharray="21.5 6.5"/>
<rect x="513.5" y="614.2" width="564.5" height="407.5" fill="#fff" stroke="#4a4a4a" stroke-width="1.8"/>
<path d="M554.0,629.6 V988.2 M548.0,982.2 H1056.4" fill="none" stroke="#404040" stroke-width="1.6"/>
<path d="M548.0,982.2 H554.0" stroke="#404040" stroke-width="1.6"/>
<text x="542.5" y="987.2" font-size="14" text-anchor="end" fill="#000" >0.0</text>
<path d="M548.0,911.7 H554.0" stroke="#404040" stroke-width="1.6"/>
<text x="542.5" y="916.7" font-size="14" text-anchor="end" fill="#000" >0.2</text>
<path d="M548.0,841.2 H554.0" stroke="#404040" stroke-width="1.6"/>
<text x="542.5" y="846.2" font-size="14" text-anchor="end" fill="#000" >0.4</text>
<path d="M548.0,770.6 H554.0" stroke="#404040" stroke-width="1.6"/>
<text x="542.5" y="775.6" font-size="14" text-anchor="end" fill="#000" >0.6</text>
<path d="M548.0,700.1 H554.0" stroke="#404040" stroke-width="1.6"/>
<text x="542.5" y="705.1" font-size="14" text-anchor="end" fill="#000" >0.8</text>
<path d="M548.0,629.6 H554.0" stroke="#404040" stroke-width="1.6"/>
<text x="542.5" y="634.6" font-size="14" text-anchor="end" fill="#000" >1.0</text>
<path d="M554.0,982.2 V988.2" stroke="#404040" stroke-width="1.6"/>
<text x="554.0" y="1008.5" font-size="14" text-anchor="middle" fill="#000" >0</text>
<path d="M679.6,982.2 V988.2" stroke="#404040" stroke-width="1.6"/>
<text x="679.6" y="1008.5" font-size="14" text-anchor="middle" fill="#000" >50</text>
<path d="M805.2,982.2 V988.2" stroke="#404040" stroke-width="1.6"/>
<text x="805.2" y="1008.5" font-size="14" text-anchor="middle" fill="#000" >100</text>
<path d="M930.8,982.2 V988.2" stroke="#404040" stroke-width="1.6"/>
<text x="930.8" y="1008.5" font-size="14" text-anchor="middle" fill="#000" >150</text>
<path d="M1056.4,982.2 V988.2" stroke="#404040" stroke-width="1.6"/>
<text x="1056.4" y="1008.5" font-size="14" text-anchor="middle" fill="#000" >200</text>
<path d="M629.4,693.1 V738.9 M624.9,693.1 H633.9 M624.9,738.9 H633.9" stroke="#222" stroke-width="1.3" fill="none"/>
<path d="M704.7,751.2 V838.7 M700.2,751.2 H709.2 M700.2,838.7 H709.2" stroke="#222" stroke-width="1.3" fill="none"/>
<path d="M855.4,825.3 V895.8 M850.9,825.3 H859.9 M850.9,895.8 H859.9" stroke="#222" stroke-width="1.3" fill="none"/>
<path d="M629.4,893.0 V975.1 M624.9,893.0 H633.9 M624.9,975.1 H633.9" stroke="#222" stroke-width="1.3" fill="none"/>
<path d="M704.7,947.3 V982.2 M700.2,947.3 H709.2 M700.2,982.2 H709.2" stroke="#222" stroke-width="1.3" fill="none"/>
<path d="M629.4,825.3 V872.0 M624.9,825.3 H633.9 M624.9,872.0 H633.9" stroke="#222" stroke-width="1.3" fill="none"/>
<path d="M704.7,908.2 V915.2 M700.2,908.2 H709.2 M700.2,915.2 H709.2" stroke="#222" stroke-width="1.3" fill="none"/>
<path d="M855.4,969.9 V975.1 M850.9,969.9 H859.9 M850.9,975.1 H859.9" stroke="#222" stroke-width="1.3" fill="none"/>
<circle cx="554.0" cy="629.6" r="4.10" fill="#000"/>
<circle cx="629.4" cy="716.0" r="4.10" fill="#000"/>
<circle cx="704.7" cy="795.3" r="4.10" fill="#000"/>
<circle cx="855.4" cy="860.6" r="4.10" fill="#000"/>
<circle cx="554.0" cy="629.6" r="3.50" fill="#fff" stroke="#000" stroke-width="1.2"/>
<circle cx="629.4" cy="933.2" r="3.50" fill="#fff" stroke="#000" stroke-width="1.2"/>
<circle cx="704.7" cy="967.0" r="3.50" fill="#fff" stroke="#000" stroke-width="1.2"/>
<circle cx="855.4" cy="978.0" r="3.50" fill="#fff" stroke="#000" stroke-width="1.2"/>
<path d="M549.4,625.7 H558.6 L554.0,633.5 Z" fill="#000"/>
<path d="M624.8,845.0 H634.0 L629.4,852.8 Z" fill="#000"/>
<path d="M700.1,907.1 H709.3 L704.7,914.9 Z" fill="#000"/>
<path d="M850.8,968.4 H860.0 L855.4,976.2 Z" fill="#000"/>
<path d="M550.4,632.7 H557.6 L554.0,626.5 Z" fill="#fff" stroke="#000" stroke-width="1.2" stroke-linejoin="miter"/>
<path d="M625.7,983.9 H633.0 L629.4,977.7 Z" fill="#fff" stroke="#000" stroke-width="1.2" stroke-linejoin="miter"/>
<path d="M701.1,983.9 H708.3 L704.7,977.7 Z" fill="#fff" stroke="#000" stroke-width="1.2" stroke-linejoin="miter"/>
<path d="M851.8,983.9 H859.1 L855.4,977.7 Z" fill="#fff" stroke="#000" stroke-width="1.2" stroke-linejoin="miter"/>
<polyline points="554.00,629.60 554.63,643.00 563.42,652.69 572.21,662.10 581.00,671.24 590.42,680.75 599.22,689.36 608.64,698.31 618.06,706.99 627.48,715.41 642.55,728.34 658.25,741.14 673.95,753.30 690.28,765.29 706.60,776.66 723.56,787.83 740.52,798.39 757.47,808.39 773.80,817.49 790.13,826.12 806.46,834.30 823.41,842.34 841.00,850.22 858.58,857.65 876.79,864.91 895.00,871.74 913.84,878.39 932.68,884.64 952.15,890.70 972.25,896.57 992.34,902.06 1013.07,907.35 1034.42,912.44 1056.40,917.31" fill="none" stroke="#0000ff" stroke-width="1.4"/>
<polyline points="554.00,629.60 558.40,666.96 562.79,700.36 567.19,730.22 572.21,760.50 577.24,787.13 582.26,810.57 584.77,821.21 587.91,833.59 590.42,842.80 593.56,853.52 596.70,863.41 599.84,872.55 602.98,880.98 606.12,888.76 609.26,895.94 613.03,903.84 616.17,909.86 619.94,916.48 623.71,922.50 627.48,927.96 631.24,932.93 635.64,938.15 640.04,942.82 644.43,946.99 648.83,950.72 653.85,954.50 657.62,957.04 662.02,959.70 666.41,962.09 670.81,964.22 675.20,966.12 680.23,968.06 685.25,969.75 690.90,971.42 696.56,972.87 702.21,974.12 708.49,975.32 714.77,976.33 728.58,978.07 744.91,979.48 760.61,980.38 778.82,981.05 800.18,981.53 825.92,981.85 895.63,982.14 1056.40,982.20" fill="none" stroke="#d40000" stroke-width="1.4"/>
<polyline points="554.00,629.60 560.91,657.25 564.68,671.41 568.44,684.95 572.21,697.91 575.98,710.29 579.75,722.14 584.14,735.31 587.91,746.07 592.31,758.03 596.70,769.38 601.10,780.16 605.50,790.39 609.89,800.11 614.29,809.33 618.68,818.09 623.08,826.40 628.10,835.38 632.50,842.82 637.52,850.86 642.55,858.43 647.57,865.57 652.60,872.30 658.25,879.40 663.27,885.33 668.92,891.59 674.58,897.45 680.23,902.93 685.88,908.05 692.16,913.36 698.44,918.28 704.72,922.86 711.00,927.10 717.28,931.05 723.56,934.71 730.47,938.43 737.38,941.86 744.28,945.03 751.19,947.94 758.73,950.86 766.26,953.53 773.80,955.98 781.96,958.39 790.13,960.58 798.92,962.72 807.71,964.64 817.13,966.49 826.55,968.15 836.60,969.72 846.65,971.12 868.00,973.59 891.24,975.66 916.98,977.38 945.24,978.75 977.27,979.83 1013.70,980.66 1056.40,981.27" fill="none" stroke="#0000ff" stroke-width="1.4" stroke-dasharray="17 7"/>
<polyline points="554.00,629.60 556.51,660.26 557.14,669.24 562.79,767.82 568.44,852.89 569.07,860.46 574.72,916.46 583.52,954.23 587.91,962.45 596.70,973.38 604.24,977.97 614.29,980.79 629.36,981.85 654.48,982.20 1056.40,982.20" fill="none" stroke="#d40000" stroke-width="1.4" stroke-dasharray="17 7"/>
<rect x="1113.4" y="740.8" width="260" height="203.6" fill="#fff" stroke="#111" stroke-width="1.5"/>
<circle cx="1158.0" cy="763.0" r="5.00" fill="#000"/>
<text x="1208.6" y="771.2" font-size="16.2">p/tDNA Mg<tspan font-size="10.5" dy="-8.4">2+</tspan></text>
<circle cx="1158.0" cy="785.7" r="4.35" fill="#fff" stroke="#000" stroke-width="1.3"/>
<text x="1208.6" y="793.9" font-size="16.2">p/tDNA Mn<tspan font-size="10.5" dy="-8.4">2+</tspan></text>
<path d="M1152.4,805.0 H1163.6 L1158.0,814.5 Z" fill="#000"/>
<text x="1208.6" y="817.9" font-size="16.2">ssDNA Mg<tspan font-size="10.5" dy="-8.4">2+</tspan></text>
<path d="M1153.5,834.1 H1162.5 L1158.0,826.5 Z" fill="#fff" stroke="#000" stroke-width="1.3" stroke-linejoin="miter"/>
<text x="1208.6" y="838.5" font-size="16.2">ssDNA Mn<tspan font-size="10.5" dy="-8.4">2+</tspan></text>
<path d="M1124.6,854.0 H1191.9" stroke="#3030ff" stroke-width="1.6"/>
<text x="1208.6" y="860.9" font-size="16.2">Fitted to p/tDNA Mg<tspan font-size="10.5" dy="-8.4">2+</tspan></text>
<path d="M1124.6,876.6 H1191.9" stroke="#d42020" stroke-width="1.6"/>
<text x="1208.6" y="883.5" font-size="16.2">Fitted to p/tDNA Mn<tspan font-size="10.5" dy="-8.4">2+</tspan></text>
<path d="M1124.6,898.8 H1136 M1146.8,898.8 H1163.6 M1168.9,898.8 H1185.6" stroke="#3030ff" stroke-width="1.6"/>
<text x="1208.6" y="905.7" font-size="16.2">Fitted to ssDNA Mg<tspan font-size="10.5" dy="-8.4">2+</tspan></text>
<path d="M1124.6,921.4 H1136 M1146.8,921.4 H1163.6 M1168.9,921.4 H1185.6" stroke="#d42020" stroke-width="1.6"/>
<text x="1208.6" y="928.3" font-size="16.2">Fitted to ssDNA Mn<tspan font-size="10.5" dy="-8.4">2+</tspan></text>
</svg></body></html>
